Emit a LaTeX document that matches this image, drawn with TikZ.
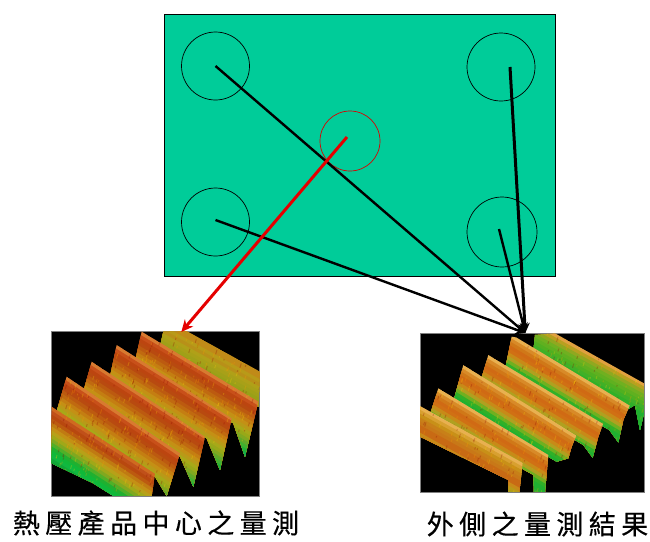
\documentclass[tikz,border=0pt]{standalone}
\usepackage{fontspec}
\newfontfamily\cjk[LetterSpace=20,FakeBold=0.3]{Noto Sans CJK TC}
\usetikzlibrary{arrows.meta}
\definecolor{board}{HTML}{00CC99}
\tikzset{
  ring/.style={circle,draw=black,line width=0.7pt,minimum size=68pt,inner sep=0pt},
  redring/.style={circle,draw=red!85!black,line width=0.7pt,minimum size=60pt,inner sep=0pt},
  conn/.style={draw=black,line width=2.4pt,-{Stealth[length=10pt,width=10pt]}},
  redconn/.style={draw=red!90!black,line width=3pt,-{Stealth[length=12pt,width=11pt]}},
  plot/.style={draw=black!50,line width=0.6pt,fill=black,inner sep=0pt,anchor=north west},
  cap label/.style={font=\cjk\fontsize{27}{27}\selectfont,inner sep=0pt}
}
% palettes: distance from the crest / colour
\def\palL{0/D87A30,10/C8501A,20/BC4510,30/B84A10,40/BC5A10,50/C06A10,60/C47E12,70/C49015,80/B89A18,90/A8A818,100/98A818,110/80A820,120/60A828,130/40B030,140/20B038,150/10B050,160/10A870,170/10A090,180/10A090}
\def\palLfront{0/D06A20,10/C0501A,20/B8480F,30/BC5A10,40/C07A12,50/C49015,60/B8A018,70/A0A818,80/80A820,90/50B028,100/20B030,110/10B838,120/10B840,130/10A838,140/109830,150/109830}
\def\palLback{0/C08A18,10/C08A18,20/B89A18,30/B89018,40/B0A018,50/A8A018,60/A0A018,70/98A018,80/B09018,90/A0A018,100/A0A018,110/A0A018,120/A0A018}
\def\palR{0/E8B050,10/D88A28,20/D07818,30/D06A14,40/D07014,50/C88A18,60/B0A020,70/70B020,80/30B028,90/20B030,100/20B030,110/30B030,120/30B030,130/30B030,140/30B030,150/30A830,160/30A830}
\def\palRfront{0/E8B050,10/D8A030,20/C89018,30/C88018,40/C87818,50/C86A14,60/C86A14,70/C88A18,80/B89A18,90/A8A018,100/A8A018,110/A8A018,120/A8A018}
\def\palRback{0/E0A040,10/B8A020,20/90A820,30/70B020,40/60B020,50/50B020,60/40B028,70/30B028,80/20B030,90/20B030,100/20B030,110/20B030,120/20B030,130/20B030,140/20A838,150/20A038}
% ridge: polygon, crest start x, y, crest angle (screen), palette
\newcommand{\ridge}[5]{%
\begin{scope}
\clip #1;
\pgfmathsetmacro\myux{cos(#4)}
\pgfmathsetmacro\myuy{sin(#4)}
\foreach \d/\c in #5 {
  \definecolor{stripc}{HTML}{\c}
  \pgfmathsetmacro\myax{#2-\myuy*\d-\myux*300}
  \pgfmathsetmacro\myay{#3+\myux*\d-\myuy*300}
  \pgfmathsetmacro\mybx{#2-\myuy*\d+\myux*700}
  \pgfmathsetmacro\myby{#3+\myux*\d+\myuy*700}
  \pgfmathsetmacro\mycx{\mybx-\myuy*300}
  \pgfmathsetmacro\mycy{\myby+\myux*300}
  \pgfmathsetmacro\mydx{\myax-\myuy*300}
  \pgfmathsetmacro\mydy{\myay+\myux*300}
  \fill[stripc] (\myax,\myay) -- (\mybx,\myby) -- (\mycx,\mycy) -- (\mydx,\mydy) -- cycle;
}
\foreach \k in {1,...,170} {
  \pgfmathsetmacro\mys{rnd*460-20}
  \pgfmathsetmacro\myd{rnd*170}
  \pgfmathsetmacro\myl{rnd*10+4}
  \pgfmathsetmacro\myx{#2+\myux*\mys-\myuy*\myd}
  \pgfmathsetmacro\myy{#3+\myuy*\mys+\myux*\myd}
  \pgfmathtruncatemacro\myc{mod(\k,3)}
  \ifnum\myc=0 \def\myco{yellow!70!orange}\fi
  \ifnum\myc=1 \def\myco{red!55!black}\fi
  \ifnum\myc=2 \def\myco{orange!80!yellow}\fi
  \draw[draw=\myco,opacity=0.25,line width=1pt] (\myx,\myy) -- ++(-0.3*\myl,\myl);
}
\end{scope}%
}
\begin{document}
\begin{tikzpicture}[x=1pt,y=-1pt]
\pgfmathsetseed{7}
\useasboundingbox (0,0) rectangle (650,541);
\fill[white] (0,0) rectangle (650,541);
% board
\node[draw=black,line width=0.7pt,fill=board,inner sep=0pt,anchor=north west,minimum width=391pt,minimum height=262pt] (board) at (164,14) {};
\node[ring] (tl) at (215.5,66) {};
\node[ring] (tr) at (501,67) {};
\node[ring] (bl) at (215.5,222) {};
\node[ring,minimum size=70pt] (br) at (502,232) {};
\node[redring] (mid) at (350,141) {};
% plots
\node[plot,minimum width=208pt,minimum height=165pt] (imgL) at (51,331) {};
\node[plot,minimum width=224pt,minimum height=159pt] (imgR) at (420,333) {};
% left surface
\begin{scope}[shift={(30pt,-320pt)},x=0.3333pt,y=-0.3333pt]
\clip (65,33) rectangle (690,528);
\ridge{(400,35) -- (470,33) -- (690,155) -- (685,260) -- (390,80) -- cycle}{470}{33}{29}{\palLback}
\ridge{(335,35) -- (685,245) -- (645,410) -- (610,310) -- (315,125) -- cycle}{335}{35}{31}{\palL}
\ridge{(260,75) -- (605,295) -- (570,450) -- (530,355) -- (240,170) -- cycle}{260}{75}{32}{\palL}
\ridge{(185,125) -- (525,350) -- (490,500) -- (450,410) -- (160,215) -- cycle}{185}{125}{33}{\palL}
\ridge{(110,170) -- (450,400) -- (410,528) -- (375,470) -- (80,275) -- cycle}{110}{170}{34}{\palL}
\ridge{(65,260) -- (375,460) -- (365,528) -- (250,528) -- (190,490) -- (65,430) -- cycle}{65}{260}{33}{\palLfront}
\end{scope}
% right surface
\begin{scope}[shift={(400pt,-280pt)},x=0.3333pt,y=-0.3333pt]
\clip (60,160) rectangle (732,636);
\ridge{(405,165) -- (465,160) -- (732,310) -- (732,400) -- (720,450) -- (705,375) -- (680,390) -- (400,215) -- cycle}{465}{160}{29}{\palRback}
\ridge{(335,170) -- (395,180) -- (690,375) -- (670,420) -- (655,487) -- (628,450) -- (315,270) -- cycle}{345}{170}{31}{\palR}
\ridge{(265,225) -- (610,430) -- (595,470) -- (578,533) -- (550,495) -- (240,310) -- cycle}{265}{225}{31}{\palR}
\ridge{(190,255) -- (530,465) -- (515,500) -- (505,535) -- (470,545) -- (160,365) -- cycle}{190}{255}{32}{\palR}
\ridge{(115,325) -- (445,525) -- (435,636) -- (402,636) -- (400,585) -- (88,410) -- cycle}{115}{325}{31}{\palR}
\ridge{(60,378) -- (368,548) -- (358,636) -- (325,636) -- (325,600) -- (60,470) -- cycle}{60}{378}{29}{\palRfront}
\end{scope}
% connectors
\draw[conn] (tl.center) -- ([xshift=-7pt]imgR.north);
\draw[conn,line width=3pt] ([xshift=9pt]tr.center) -- ([xshift=-7pt]imgR.north);
\draw[conn] ([xshift=-3pt,yshift=3pt]br.center) -- ([xshift=-7pt]imgR.north);
\draw[conn] ([yshift=2pt]bl.center) -- ([xshift=-7pt]imgR.north);
\draw[redconn] ([xshift=-3pt,yshift=4pt]mid.center) -- ([xshift=26pt,yshift=-1pt]imgL.north);
% captions
\node[cap label] (capL) at (156,523) {熱壓產品中心之量測};
\node[cap label] (capR) at (537.5,524) {外側之量測結果};
\end{tikzpicture}
\end{document}
